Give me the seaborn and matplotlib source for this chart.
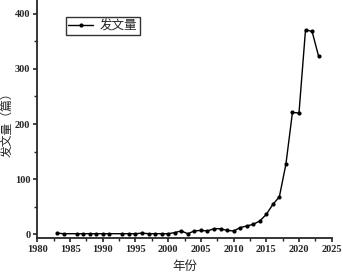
import numpy as np
import pandas as pd
import seaborn as sns
from matplotlib import pyplot as plt
from matplotlib.ticker import MultipleLocator

years = [1983, 1984, 1986, 1987, 1988, 1989, 1990, 1991, 1993, 1994, 1995,
         1996, 1997, 1998, 1999, 2000, 2001, 2002, 2003, 2004, 2005, 2006,
         2007, 2008, 2009, 2010, 2011, 2012, 2013, 2014, 2015, 2016, 2017,
         2018, 2019, 2020, 2021, 2022, 2023]
counts = [2, 1, 1, 1, 1, 1, 1, 1, 1, 1, 1,
          2, 1, 1, 1, 1, 3, 6, 1, 6, 7, 6,
          10, 10, 7, 6, 12, 15, 18, 24, 36, 54, 68,
          127, 221, 220, 371, 368, 323]

df = pd.DataFrame({"年份": years, "发文量": counts})

sns.set_style("ticks")
plt.rcParams['font.family'] = ['Liberation Serif', 'Noto Sans CJK SC', 'DejaVu Sans']
cjk = ['Noto Sans CJK SC', 'DejaVu Sans']

fig = plt.figure(figsize=(3.43, 2.74), dpi=100)
ax = fig.add_axes([0.109, 0.131, 0.858, 0.869])

sns.lineplot(data=df, x="年份", y="发文量", ax=ax, color="black",
             marker="o", markersize=3, linewidth=1, markeredgewidth=0,
             label="发文量")

ax.set_xlim(1980, 2025)
ax.set_ylim(-7, 425)
ax.xaxis.set_major_locator(MultipleLocator(5))
ax.xaxis.set_minor_locator(MultipleLocator(2.5))
ax.yaxis.set_major_locator(MultipleLocator(100))
ax.yaxis.set_minor_locator(MultipleLocator(50))
ax.tick_params(which="major", length=3, width=1.2, labelsize=7.5, pad=2)
ax.tick_params(which="minor", length=2, width=1)
for lab in ax.get_xticklabels() + ax.get_yticklabels():
    lab.set_fontweight("bold")

for s in ["top", "right"]:
    ax.spines[s].set_visible(False)
for s in ["left", "bottom"]:
    ax.spines[s].set_linewidth(1.3)

ax.set_xlabel("年份", family=cjk, fontsize=9)
ax.set_ylabel("发文量（篇）", family=cjk, fontsize=8.5)
ax.xaxis.set_label_coords(0.5, -0.09)
ax.yaxis.set_label_coords(-0.08, 0.49)

leg = ax.legend(loc="upper left", bbox_to_anchor=(0.097, 0.93), frameon=True,
                fancybox=False, prop={"family": cjk, "size": 9},
                handlelength=2.0, borderpad=0.2, handletextpad=0.5,
                borderaxespad=0)
leg.get_frame().set_edgecolor("black")
leg.get_frame().set_linewidth(1)

fig.savefig("out.png", dpi=100)
